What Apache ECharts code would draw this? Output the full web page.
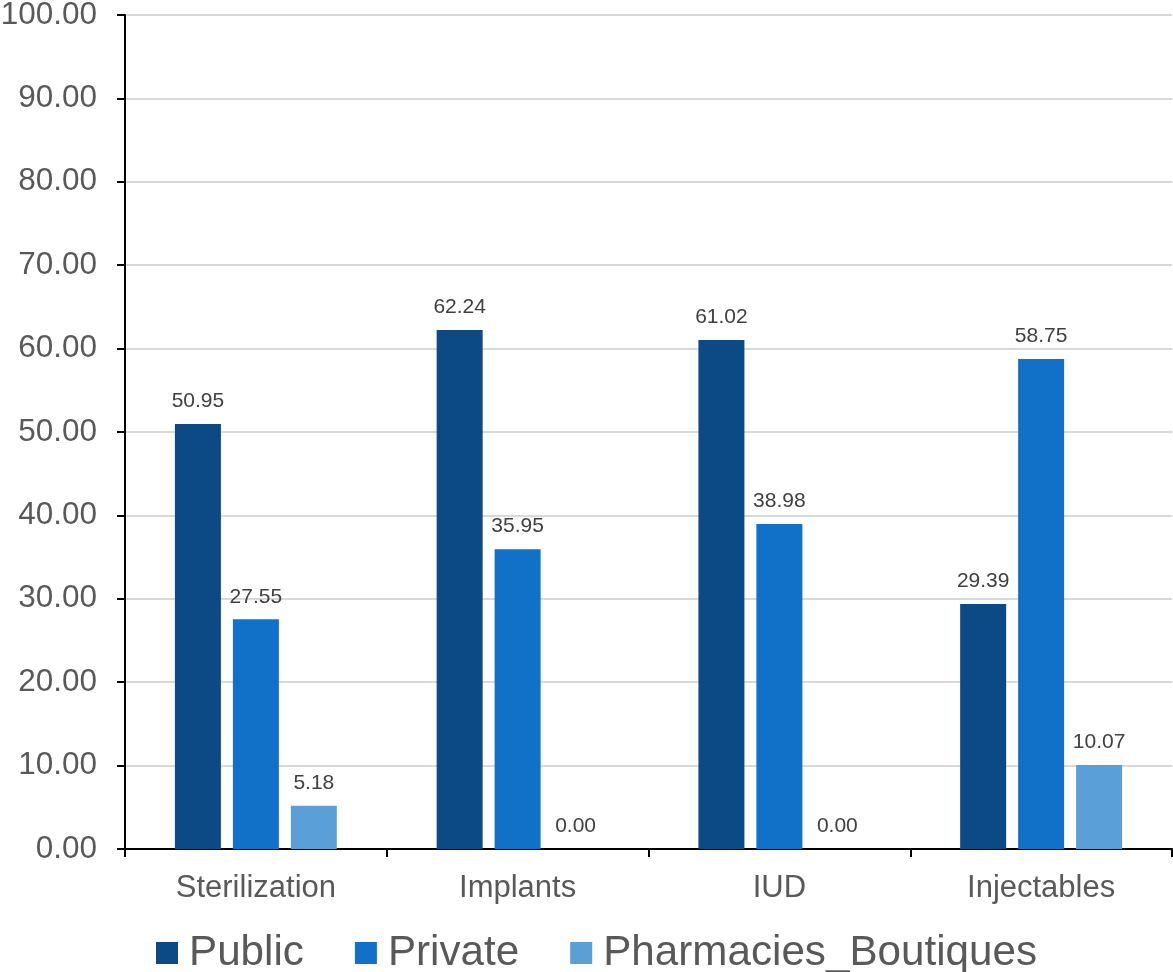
<!DOCTYPE html>
<html><head><meta charset="utf-8">
<script src="https://cdn.jsdelivr.net/npm/echarts@6/dist/echarts.min.js"></script>
<style>html,body{margin:0;padding:0;background:#fff}#c{width:1173px;height:972px}</style>
</head><body><div id="c"></div>
<script>
const categories = ['Sterilization', 'Implants', 'IUD', 'Injectables'];
const publicVals = [50.95, 62.24, 61.02, 29.39];
const privateVals = [27.55, 35.95, 38.98, 58.75];
const pharmVals = [5.18, 0.00, 0.00, 10.07];
const seriesNames = ['Public', 'Private', 'Pharmacies_Boutiques'];
const colors = ['#0b4a85', '#1170c8', '#5b9fd9'];

const font = '"Liberation Sans", Arial, sans-serif';
const chart = echarts.init(document.getElementById('c'));
function mk(name, data, color) {
  return {
    name, type: 'bar', data, barWidth: 46, barGap: '26%',
    itemStyle: { color },
    label: { show: true, position: 'top', distance: 12, fontFamily: font, fontSize: 21, color: '#404040',
      formatter: p => p.value.toFixed(2) }
  };
}
chart.setOption({
  animation: false,
  color: colors,
  textStyle: { fontFamily: font },
  grid: { left: 125, right: 1, top: 15, bottom: 123, containLabel: false, outerBoundsMode: 'none' },
  legend: {
    bottom: -2, left: 156, padding: 0, itemWidth: 22, itemHeight: 22, itemGap: 51, icon: 'rect',
    textStyle: { fontFamily: font, fontSize: 42.2, color: '#595959', padding: [0, 0, 0, 6] },
    data: seriesNames
  },
  xAxis: {
    type: 'category', data: categories,
    axisLine: { lineStyle: { color: '#000', width: 2 } },
    axisTick: { show: true, length: 8, lineStyle: { color: '#000', width: 2 } },
    axisLabel: { fontFamily: font, fontSize: 31, color: '#595959', margin: 24 },
    splitLine: { show: false }
  },
  yAxis: {
    type: 'value', min: 0, max: 100, interval: 10,
    axisLine: { show: true, lineStyle: { color: '#000', width: 2 } },
    axisTick: { show: true, length: 8, lineStyle: { color: '#000', width: 2 } },
    axisLabel: { fontFamily: font, fontSize: 31.5, color: '#595959', margin: 28, formatter: v => v.toFixed(2) },
    splitLine: { show: true, lineStyle: { color: '#d9d9d9', width: 2 } }
  },
  series: [
    mk(seriesNames[0], publicVals, colors[0]),
    mk(seriesNames[1], privateVals, colors[1]),
    mk(seriesNames[2], pharmVals, colors[2])
  ]
});
</script></body></html>
